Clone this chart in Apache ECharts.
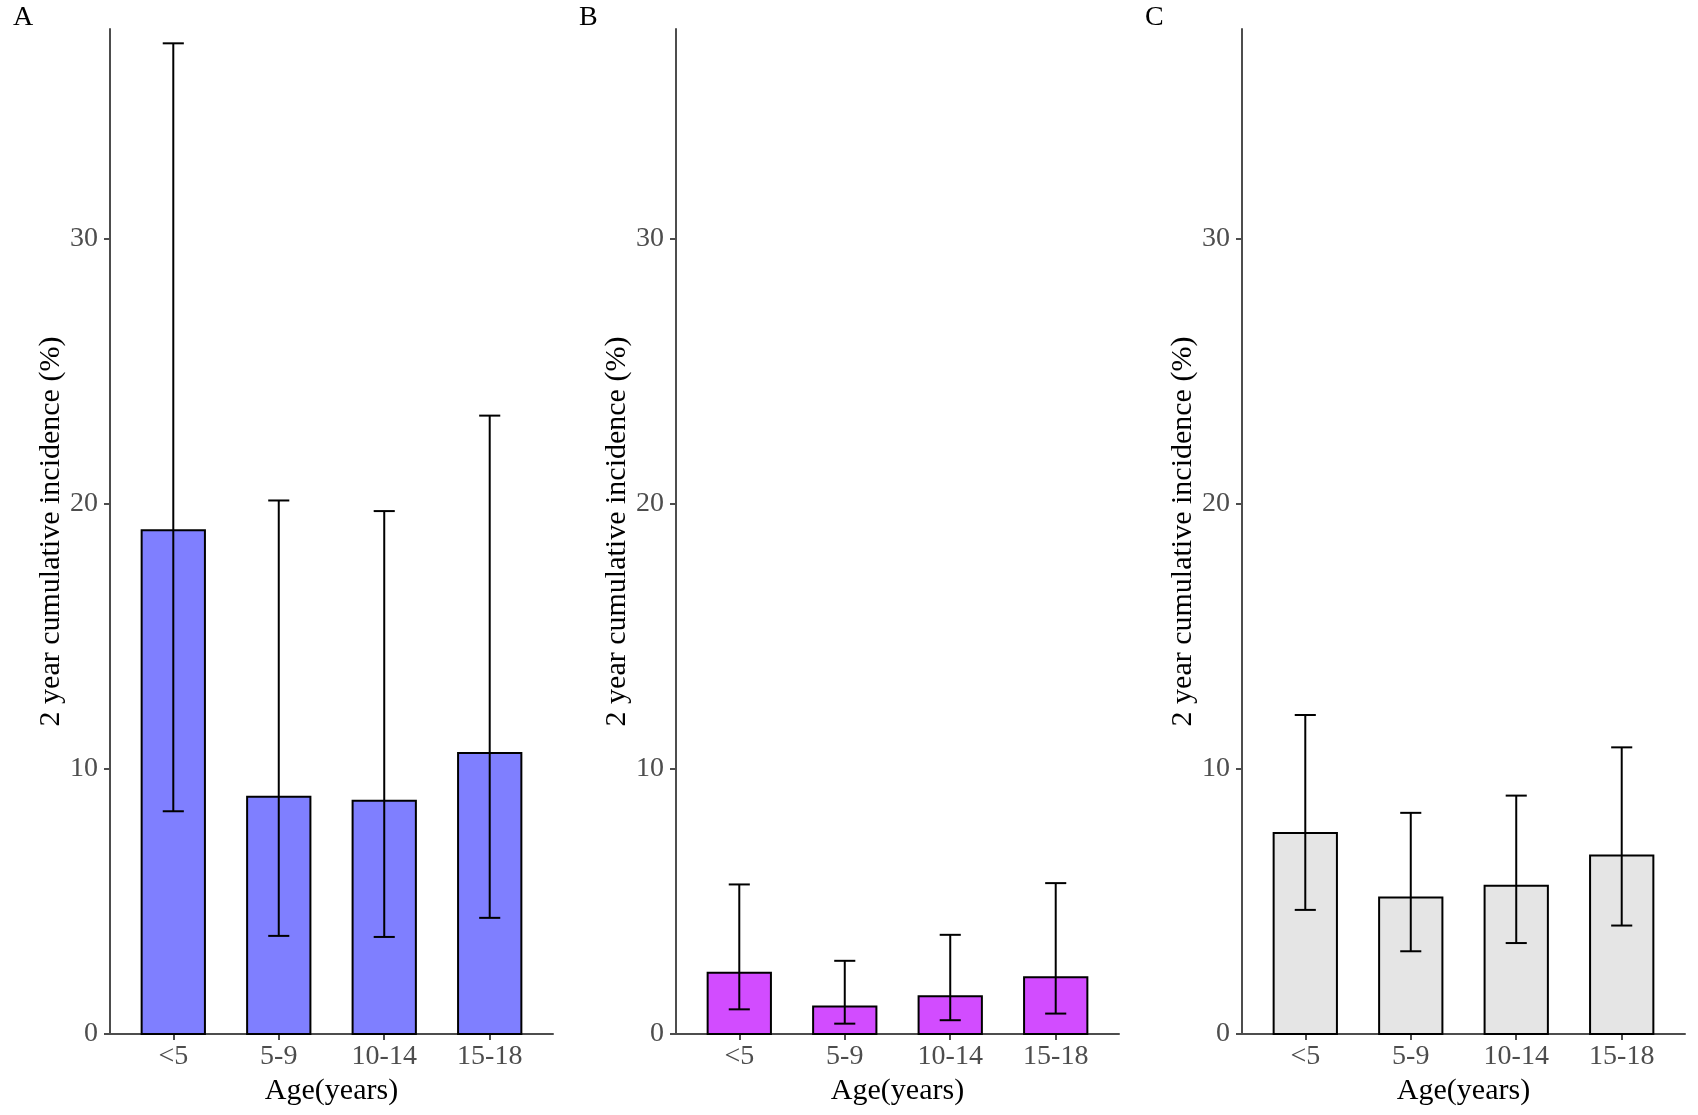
<!DOCTYPE html>
<html>
<head>
<meta charset="utf-8">
<script src="https://cdn.jsdelivr.net/npm/echarts@6/dist/echarts.min.js"></script>
<style>
  html, body { margin: 0; padding: 0; background: #fff; }
  #chart { width: 1698px; height: 1115px; }
</style>
</head>
<body>
<div id="chart"></div>
<script>
  // categories and tick labels
  var ageGroups = ['<5', '5-9', '10-14', '15-18']
  var yTicks = [0, 10, 20, 30]

  // panel A
  var valuesA = [19.0, 8.95, 8.8, 10.6]
  var lowerA = [8.4, 3.7, 3.66, 4.38]
  var upperA = [37.36, 20.12, 19.72, 23.32]
  // panel B
  var valuesB = [2.31, 1.04, 1.42, 2.14]
  var lowerB = [0.93, 0.39, 0.52, 0.77]
  var upperB = [5.64, 2.76, 3.74, 5.69]
  // panel C
  var valuesC = [7.58, 5.15, 5.59, 6.73]
  var lowerC = [4.68, 3.12, 3.43, 4.09]
  var upperC = [12.03, 8.34, 8.99, 10.81]

  var panels = [
    {label: 'A', values: valuesA, lower: lowerA, upper: upperA, color: '#7f7fff', left: 110},
    {label: 'B', values: valuesB, lower: lowerB, upper: upperB, color: '#d24cff', left: 676},
    {label: 'C', values: valuesC, lower: lowerC, upper: upperC, color: '#e5e5e5', left: 1242}
  ]

  var font = 'Liberation Serif'
  var axisColor = '#4d4d4d'
  var xPos = [1, 2, 3, 4]

  var myChart = echarts.init(document.getElementById('chart'))

  var grids = [], xAxes = [], yAxes = [], series = [], graphics = []

  panels.forEach(function (p, i) {
    grids.push({left: p.left, top: 29, width: 443, height: 1005, containLabel: false})

    xAxes.push({
      type: 'value',
      gridIndex: i,
      min: 0.4,
      max: 4.6,
      name: 'Age(years)',
      nameLocation: 'middle',
      nameGap: 38,
      nameTextStyle: {fontFamily: font, fontSize: 30, color: '#000'},
      axisLine: {show: true, lineStyle: {color: axisColor, width: 2}},
      axisTick: {show: true, length: 6, customValues: xPos, lineStyle: {color: axisColor, width: 2}},
      axisLabel: {
        margin: 9,
        customValues: xPos,
        fontFamily: font,
        fontSize: 28,
        color: '#4d4d4d',
        formatter: function (v) { return ageGroups[Math.round(v) - 1] }
      },
      splitLine: {show: false}
    })

    yAxes.push({
      type: 'value',
      gridIndex: i,
      min: 0,
      max: 37.9,
      name: '2 year cumulative incidence (%)',
      nameLocation: 'middle',
      nameGap: 41,
      nameTextStyle: {fontFamily: font, fontSize: 30, color: '#000'},
      axisLine: {show: true, lineStyle: {color: axisColor, width: 2}},
      axisTick: {show: true, length: 6, customValues: yTicks, lineStyle: {color: axisColor, width: 2}},
      axisLabel: {
        margin: 12,
        customValues: yTicks,
        fontFamily: font,
        fontSize: 28,
        color: '#4d4d4d'
      },
      splitLine: {show: false}
    })

    // bars
    series.push({
      type: 'custom',
      xAxisIndex: i,
      yAxisIndex: i,
      data: p.values.map(function (v, k) { return [xPos[k], v] }),
      renderItem: function (params, api) {
        var x = api.value(0), y = api.value(1)
        var tl = api.coord([x - 0.3, y])
        var br = api.coord([x + 0.3, 0])
        return {
          type: 'rect',
          shape: {x: tl[0], y: tl[1], width: br[0] - tl[0], height: br[1] - tl[1]},
          style: {fill: p.color, stroke: '#000', lineWidth: 2}
        }
      },
      z: 2
    })

    // error bars
    series.push({
      type: 'custom',
      xAxisIndex: i,
      yAxisIndex: i,
      data: p.lower.map(function (lo, k) { return [xPos[k], lo, p.upper[k]] }),
      renderItem: function (params, api) {
        var x = api.value(0)
        var lo = api.coord([x, api.value(1)])
        var hi = api.coord([x, api.value(2)])
        var half = (api.coord([x + 0.1, 0])[0] - api.coord([x, 0])[0])
        var st = {stroke: '#000', lineWidth: 2}
        return {
          type: 'group',
          children: [
            {type: 'line', shape: {x1: lo[0], y1: lo[1], x2: hi[0], y2: hi[1]}, style: st},
            {type: 'line', shape: {x1: hi[0] - half, y1: hi[1], x2: hi[0] + half, y2: hi[1]}, style: st},
            {type: 'line', shape: {x1: lo[0] - half, y1: lo[1], x2: lo[0] + half, y2: lo[1]}, style: st}
          ]
        }
      },
      z: 3
    })

    graphics.push({
      type: 'text',
      left: p.left - 97,
      top: 4,
      style: {text: p.label, fontFamily: font, fontSize: 28, fill: '#000'}
    })
  })

  var option = {
    backgroundColor: '#fff',
    animation: false,
    grid: grids,
    xAxis: xAxes,
    yAxis: yAxes,
    series: series,
    graphic: graphics
  }

  myChart.setOption(option)
</script>
</body>
</html>
